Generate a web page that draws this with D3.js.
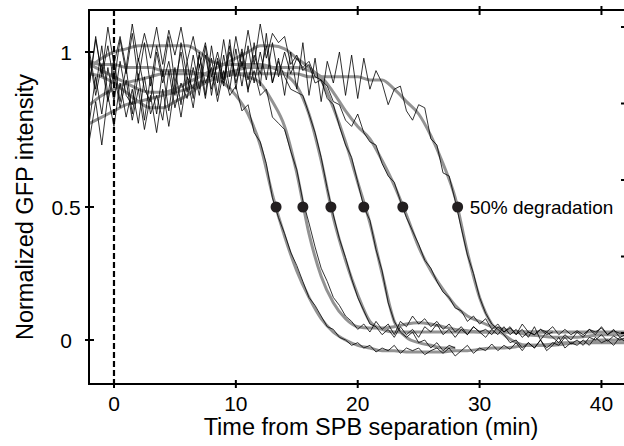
<!DOCTYPE html>
<meta charset="utf-8">
<style>
body { margin: 0; background: #fff; }
svg { font-family: "Liberation Sans", Arial, Helvetica, sans-serif; }
</style>
<svg width="624" height="446"></svg>
<script src="https://d3js.org/d3.v7.min.js"></script>
<script>
// tick values and labels
var xTicks = [0, 10, 20, 30, 40];
var yTicks = [0, 0.5, 1];
var yTickLabels = ["0", "0.5", "1"];
var rightTicks = [0, 1, 2, 3, 4];

// time (min) of 50% degradation for each cell
var halfTimes = [13.3, 15.5, 17.8, 20.5, 23.7, 28.2];

// raw traces start at -2 min, one value every 0.5 min
var rawStart = -2, rawStep = 0.5;
// fitted curves start at -2 min, one value every 1 min
var fitStart = -2, fitStep = 1;

var rawA = [0.78,0.92,0.80,0.95,0.84,0.97,0.86,0.83,0.98,0.88,
  0.84,1.00,0.90,0.97,0.86,1.03,0.92,0.88,0.99,0.90,
  0.95,0.84,0.94,0.86,0.89,0.81,0.83,0.74,0.71,0.64,
  0.53,0.46,0.40,0.33,0.28,0.22,0.16,0.13,0.09,0.05,
  0.04,0.01,0.00,-0.02,-0.01,-0.03,-0.02,-0.045,-0.03,-0.04,
  -0.02,-0.05,-0.03,-0.04,-0.03,-0.055,-0.04,-0.03,-0.05,-0.03,
  -0.06,-0.04,-0.02,-0.05,-0.03,-0.04,-0.015,-0.04,-0.02,-0.035,
  -0.01,-0.04,-0.01,-0.03,0.00,-0.03,-0.01,-0.02,0.01,-0.015,
  0.00,-0.02,0.01,0.00,0.02,-0.005,0.015,0.00,0.01];
var fitA = [0.83,0.86,0.88,0.90,0.91,0.92,0.93,0.93,0.93,0.93,
  0.92,0.90,0.86,0.80,0.70,0.54,0.39,0.26,0.16,0.08,
  0.03,0.00,-0.02,-0.03,-0.04,-0.04,-0.045,-0.045,-0.045,-0.045,
  -0.04,-0.04,-0.035,-0.03,-0.03,-0.025,-0.02,-0.02,-0.015,-0.01,
  -0.01,-0.005,0.00,0.00,0.00];

var rawB = [0.72,0.84,0.70,0.86,0.76,0.90,0.79,0.88,0.77,0.92,
  0.80,0.86,0.78,0.94,0.82,0.90,0.85,0.95,0.86,0.99,
  0.88,0.97,0.89,1.02,0.90,0.97,0.88,0.94,0.86,0.88,
  0.79,0.77,0.75,0.68,0.62,0.52,0.44,0.35,0.27,0.22,
  0.16,0.13,0.09,0.07,0.04,0.06,0.03,0.07,0.04,0.06,
  0.02,0.07,0.05,0.09,0.06,0.08,0.05,0.07,0.04,0.06,
  0.03,0.05,0.02,0.05,0.03,0.04,0.02,0.05,0.03,0.045,
  0.02,0.06,0.03,0.02,0.04,0.03,0.05,0.02,0.04,0.02,
  0.035,0.02,0.04,0.03,0.045,0.02,0.035,0.025,0.03];
var fitB = [0.77,0.79,0.81,0.83,0.84,0.85,0.86,0.87,0.88,0.90,
  0.91,0.92,0.93,0.92,0.90,0.84,0.76,0.61,0.40,0.24,
  0.14,0.08,0.05,0.045,0.045,0.05,0.06,0.065,0.06,0.05,
  0.04,0.035,0.03,0.03,0.03,0.03,0.03,0.03,0.03,0.03,
  0.03,0.03,0.03,0.03,0.03];

var rawC = [0.90,1.04,0.93,1.08,0.96,1.05,0.95,1.09,0.97,1.06,
  0.98,1.08,0.96,1.07,0.99,1.08,0.97,1.05,0.95,1.03,
  0.92,1.00,0.91,1.00,0.92,1.01,0.91,0.99,0.93,1.02,
  0.90,0.97,0.92,0.88,0.87,0.86,0.80,0.74,0.66,0.56,
  0.47,0.38,0.31,0.23,0.16,0.11,0.06,0.05,0.02,0.04,
  0.01,0.05,0.02,0.04,0.01,0.05,0.03,0.06,0.02,0.04,
  0.01,0.04,0.02,0.05,0.03,0.01,0.04,0.02,0.05,0.02,
  0.04,0.01,0.03,0.02,0.04,0.02,0.03];
var fitC = [0.95,0.98,1.00,1.01,1.02,1.02,1.02,1.02,1.02,1.00,
  0.97,0.96,0.96,0.96,0.96,0.95,0.93,0.89,0.80,0.65,
  0.46,0.30,0.17,0.07,0.04,0.03,0.03,0.03,0.03,0.03,
  0.03,0.03,0.03,0.03,0.03,0.03,0.03,0.03,0.03];

var rawD = [1.00,0.88,1.02,0.86,0.98,0.84,0.95,0.80,0.93,0.78,
  0.92,0.80,0.94,0.81,0.95,0.83,0.97,0.85,1.00,0.86,
  1.02,0.90,1.04,0.92,1.05,0.95,1.07,0.96,1.09,0.98,
  1.06,1.03,1.05,0.96,0.99,0.94,0.96,0.90,0.91,0.85,
  0.83,0.76,0.70,0.66,0.58,0.50,0.45,0.34,0.26,0.14,
  0.07,0.03,0.01,0.03,-0.01,0.00,-0.03,-0.01,-0.04,-0.02,
  -0.03];
var fitD = [0.96,0.94,0.92,0.90,0.88,0.87,0.87,0.88,0.90,0.92,
  0.94,0.96,0.98,1.00,1.02,1.02,1.01,0.98,0.95,0.91,
  0.82,0.71,0.58,0.44,0.25,0.07,0.01,-0.01,-0.02,-0.03,
  -0.03];

var rawE = [0.98,0.86,0.96,0.84,0.94,0.82,0.91,0.78,0.88,0.75,
  0.86,0.74,0.88,0.76,0.90,0.79,0.92,0.82,0.96,0.85,
  0.98,0.86,0.99,0.88,1.01,0.89,1.02,0.90,1.00,0.91,
  1.03,0.92,1.00,0.93,0.98,0.95,0.97,0.92,0.91,0.89,
  0.84,0.83,0.78,0.76,0.80,0.74,0.71,0.70,0.64,0.60,
  0.58,0.52,0.46,0.41,0.36,0.30,0.27,0.22,0.18,0.16,
  0.12,0.11,0.07,0.09,0.06,0.08,0.04,0.06,0.03,0.05,
  0.02,0.04,0.01,0.05,0.00,0.03,0.01,-0.01,0.02,0.00,
  0.03,0.01,0.04,0.02,0.05,0.02,0.04,0.01,0.02];
var fitE = [0.93,0.92,0.90,0.87,0.84,0.82,0.82,0.84,0.86,0.89,
  0.91,0.93,0.94,0.95,0.95,0.95,0.95,0.95,0.94,0.92,
  0.87,0.81,0.76,0.72,0.65,0.57,0.47,0.35,0.26,0.19,
  0.13,0.09,0.07,0.05,0.04,0.03,0.02,0.015,0.01,0.01,
  0.01,0.015,0.02,0.02,0.02];

var rawF = [0.90,1.05,0.92,1.02,0.90,1.04,0.93,1.06,0.91,1.03,
  0.89,1.02,0.92,1.05,0.90,1.00,0.87,0.99,0.88,1.02,
  0.86,0.98,0.90,1.04,0.88,1.00,0.87,1.03,0.89,1.06,
  0.90,0.98,0.86,1.00,0.88,1.03,0.86,0.98,0.84,0.97,
  0.90,1.00,0.86,0.99,0.85,0.98,0.88,0.94,0.90,0.83,
  0.88,0.89,0.81,0.78,0.83,0.82,0.72,0.70,0.61,0.60,
  0.52,0.42,0.32,0.25,0.16,0.10,0.06,0.04,0.02,-0.01,
  0.00,-0.03,-0.01,-0.03,0.00,-0.04,-0.02,0.01,-0.03,-0.01,
  -0.02,0.00,-0.02,0.01,-0.01,0.00,-0.02,0.01,-0.01];
var fitF = [0.97,0.96,0.96,0.95,0.95,0.95,0.94,0.94,0.94,0.93,
  0.93,0.93,0.93,0.93,0.93,0.93,0.93,0.93,0.92,0.92,
  0.92,0.92,0.92,0.91,0.91,0.88,0.84,0.80,0.73,0.64,
  0.53,0.33,0.16,0.06,0.02,-0.01,-0.02,-0.02,-0.02,-0.015,
  -0.01,-0.01,-0.01,-0.01,-0.01];

var rawTraces = [rawA, rawB, rawC, rawD, rawE, rawF];
var fitTraces = [fitA, fitB, fitC, fitD, fitE, fitF];

//layout
var svg = d3.select("svg"),
    plotL = 89, plotR = 624, plotT = 10, plotB = 384;

var x = d3.scaleLinear().domain([-2.05, 41.85]).range([plotL, plotR]);
// the printed y axis is not evenly spaced, so map it piece by piece
var y = d3.scaleLinear()
    .domain([-0.165, 0, 0.5, 1, 1.135])
    .range([plotB, 340, 207, 52, plotT]);
var yRight = d3.scaleLinear().domain([0, 4]).range([333, 27]);

svg.append("clipPath").attr("id", "plot")
  .append("rect")
    .attr("x", plotL).attr("y", plotT)
    .attr("width", plotR - plotL).attr("height", plotB - plotT);

function toPoints(values, start, step) {
  return values.map(function(v, i) { return [start + i * step, v]; });
}

var fitLine = d3.line()
    .x(function(d) { return x(d[0]); })
    .y(function(d) { return y(d[1]); })
    .curve(d3.curveMonotoneX);

var rawLine = d3.line()
    .x(function(d) { return x(d[0]); })
    .y(function(d) { return y(d[1]); });

var plot = svg.append("g").attr("clip-path", "url(#plot)");

//fitted curves in grey
plot.selectAll(".fit")
  .data(fitTraces)
  .enter().append("path")
    .attr("class", "fit")
    .attr("fill", "none")
    .attr("stroke", "#939393")
    .attr("stroke-width", 3)
    .attr("d", function(d) { return fitLine(toPoints(d, fitStart, fitStep)); });

//raw traces in black
plot.selectAll(".raw")
  .data(rawTraces)
  .enter().append("path")
    .attr("class", "raw")
    .attr("fill", "none")
    .attr("stroke", "#000")
    .attr("stroke-width", 0.8)
    .attr("d", function(d) { return rawLine(toPoints(d, rawStart, rawStep)); });

//dashed line at SPB separation
svg.append("line")
    .attr("x1", x(0)).attr("x2", x(0))
    .attr("y1", plotT).attr("y2", plotB)
    .attr("stroke", "#000")
    .attr("stroke-width", 2.2)
    .attr("stroke-dasharray", "6,3");

//50% degradation points
svg.selectAll(".half")
  .data(halfTimes)
  .enter().append("circle")
    .attr("class", "half")
    .attr("cx", function(d) { return x(d); })
    .attr("cy", y(0.5))
    .attr("r", 5.5)
    .attr("fill", "#231f20");

svg.append("text")
    .attr("x", x(d3.max(halfTimes)) + 12)
    .attr("y", y(0.5))
    .attr("dy", "0.35em")
    .style("font-size", "19px")
    .text("50% degradation");

//frame
var axis = svg.append("g")
    .attr("stroke", "#000")
    .attr("stroke-width", 2);

axis.append("line").attr("x1", plotL).attr("x2", plotL).attr("y1", plotT - 1).attr("y2", plotB + 1);
axis.append("line").attr("x1", plotL - 1).attr("x2", plotR).attr("y1", plotT).attr("y2", plotT);
axis.append("line").attr("x1", plotL - 1).attr("x2", plotR).attr("y1", plotB).attr("y2", plotB);

axis.selectAll(".xb")
  .data(xTicks)
  .enter().append("line")
    .attr("x1", function(d) { return x(d); })
    .attr("x2", function(d) { return x(d); })
    .attr("y1", plotB - 4).attr("y2", plotB + 4);

axis.selectAll(".xt")
  .data(xTicks.slice(1))
  .enter().append("line")
    .attr("x1", function(d) { return x(d); })
    .attr("x2", function(d) { return x(d); })
    .attr("y1", plotT - 4).attr("y2", plotT + 5);

axis.selectAll(".yl")
  .data(yTicks)
  .enter().append("line")
    .attr("x1", plotL - 4).attr("x2", plotL + 5)
    .attr("y1", function(d) { return y(d); })
    .attr("y2", function(d) { return y(d); });

axis.selectAll(".yr")
  .data(rightTicks)
  .enter().append("line")
    .attr("x1", plotR - 3).attr("x2", plotR)
    .attr("y1", function(d) { return yRight(d); })
    .attr("y2", function(d) { return yRight(d); });

//tick labels
svg.selectAll(".xlab")
  .data(xTicks)
  .enter().append("text")
    .attr("x", function(d) { return x(d); })
    .attr("y", 411)
    .attr("text-anchor", "middle")
    .style("font-size", "21px")
    .text(function(d) { return d; });

svg.selectAll(".ylab")
  .data(yTicks)
  .enter().append("text")
    .attr("x", 66)
    .attr("y", function(d) { return y(d); })
    .attr("dy", "0.36em")
    .attr("text-anchor", "middle")
    .style("font-size", "21px")
    .text(function(d, i) { return yTickLabels[i]; });

//axis titles
svg.append("text")
    .attr("x", 371)
    .attr("y", 435)
    .attr("text-anchor", "middle")
    .style("font-size", "23.5px")
    .text("Time from SPB separation (min)");

svg.append("text")
    .attr("transform", "translate(33,207) rotate(-90)")
    .attr("text-anchor", "middle")
    .style("font-size", "23.5px")
    .text("Normalized GFP intensity");
</script>
